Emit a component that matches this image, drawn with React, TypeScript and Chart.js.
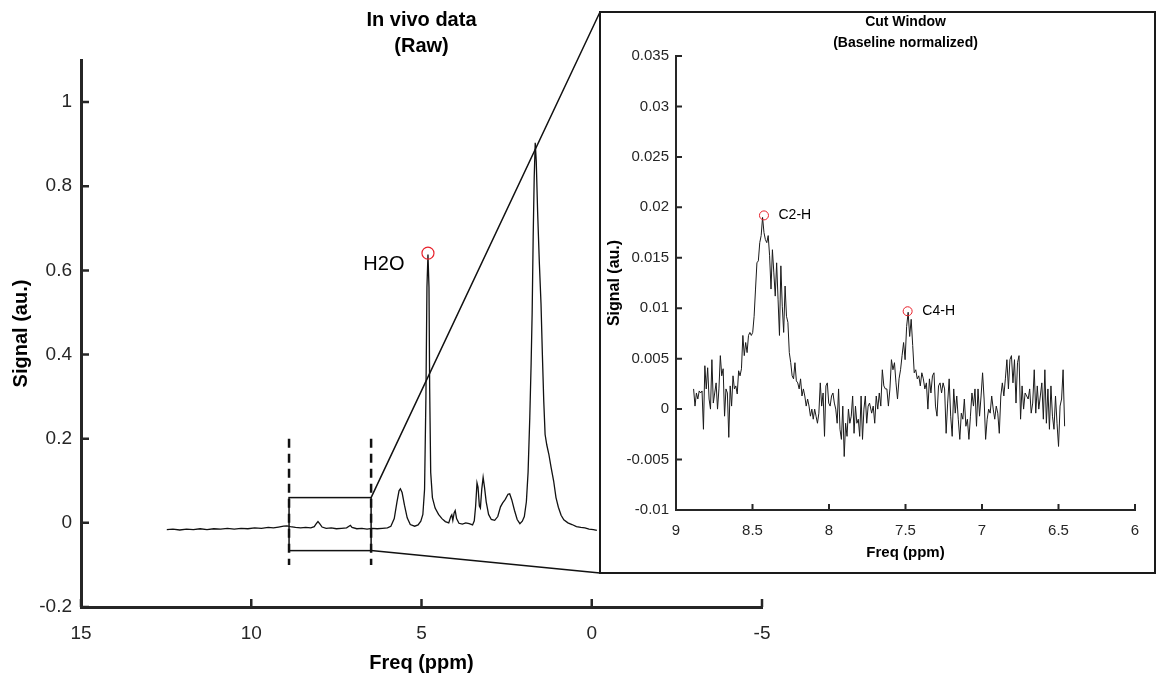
import React, { useEffect, useRef } from "react";
import { Chart, registerables } from "chart.js";

Chart.register(...registerables);

const FONT = "'Liberation Sans', Arial, Helvetica, sans-serif";
const INK = "#262626";
const PAGE_W = 1157;
const PAGE_H = 676;
const INSET_BOX = { left: 600, top: 12, right: 1156, bottom: 573 };

// ---------- main spectrum (raw) ----------
const mainFreq = [
  12.48, 12.3, 12.1, 11.9, 11.7, 11.5, 11.3, 11.1, 10.9, 10.7, 10.5, 10.3, 10.1, 9.9, 9.7, 9.5, 9.35, 9.2, 9.05, 8.95,
  8.85, 8.7, 8.55, 8.4, 8.25, 8.15, 8.09, 8.04, 7.98, 7.92, 7.8, 7.65, 7.5, 7.35, 7.2, 7.13, 7.09, 7.04, 6.9, 6.75,
  6.6, 6.45, 6.3, 6.15, 6.0, 5.9, 5.8, 5.72, 5.66, 5.62, 5.57, 5.5, 5.42, 5.33, 5.2, 5.1, 5.02, 4.96, 4.91, 4.87,
  4.84, 4.81, 4.78, 4.76, 4.73, 4.68, 4.6, 4.5, 4.4, 4.3, 4.2, 4.14, 4.11, 4.08, 4.04, 4.01, 3.97, 3.9, 3.8, 3.7,
  3.6, 3.5, 3.45, 3.41, 3.37, 3.34, 3.3, 3.27, 3.23, 3.19, 3.15, 3.1, 3.03, 2.95, 2.85, 2.76, 2.68, 2.62, 2.54, 2.46,
  2.41, 2.35, 2.27, 2.19, 2.11, 2.04, 1.98, 1.92, 1.87, 1.82, 1.78, 1.75, 1.72, 1.69, 1.66, 1.63, 1.59, 1.54, 1.49, 1.45,
  1.41, 1.37, 1.32, 1.26, 1.19, 1.12, 1.05, 0.98, 0.9, 0.82, 0.7, 0.58, 0.45, 0.32, 0.2, 0.08, -0.05, -0.15,
];
const mainSignal = [
  -0.016, -0.015, -0.017, -0.015, -0.016, -0.014, -0.016, -0.014, -0.015, -0.013, -0.015, -0.013, -0.014, -0.012, -0.013, -0.011, -0.012, -0.01, -0.008, -0.007,
  -0.009, -0.011, -0.012, -0.011, -0.012, -0.009, -0.002, 0.003, -0.003, -0.01, -0.013, -0.012, -0.014, -0.013, -0.012, -0.008, -0.006, -0.011, -0.014, -0.013,
  -0.015, -0.013, -0.014, -0.013, -0.012, -0.008, 0.01, 0.05, 0.076, 0.081, 0.072, 0.042, 0.012, -0.004, -0.008, -0.005, 0.004, 0.02, 0.08, 0.3,
  0.56, 0.638, 0.56, 0.32, 0.12, 0.06, 0.035, 0.02, 0.01, 0.003, 0.0, 0.015, 0.019, 0.006, 0.024, 0.029, 0.01, -0.001, -0.003, 0.0,
  -0.002, -0.005, 0.005, 0.04, 0.095, 0.085, 0.04, 0.035, 0.08, 0.108, 0.085, 0.05, 0.02, 0.008, 0.006, 0.015, 0.038, 0.047, 0.056, 0.068,
  0.069, 0.055, 0.03, 0.008, -0.002, 0.004, 0.015, 0.05, 0.12, 0.25, 0.38, 0.5, 0.68, 0.82, 0.903, 0.86, 0.74, 0.62, 0.52, 0.4,
  0.29, 0.21, 0.185, 0.163, 0.13, 0.1, 0.06, 0.037, 0.018, 0.007, 0.0, -0.004, -0.009, -0.011, -0.012, -0.015, -0.016, -0.018,
];
const mainXTicks = [15, 10, 5, 0, -5];
const mainYTicks = [-0.2, 0, 0.2, 0.4, 0.6, 0.8, 1];
const mainPeak = { label: "H2O", freq: 4.81, signal: 0.641, labelFreq: 5.5, labelSignal: 0.615 };
const cutWindow = { from: 8.89, to: 6.48, top: 0.06, bottom: -0.066, dashTop: 0.2, dashBottom: -0.1 };

// ---------- inset (baseline normalized) ----------
const insetHighRange = [8.885, 7.735];
const insetSignalHigh = [
  0.002, 0.0003, 0.0016, 0.001, 0.0018, 0.0016, 0.0018, -0.002, 0.0043, 0.002,
  0.0041, 0.001, 0.0, 0.0049, 0.0006, 0.0016, 0.0026, 0.0, 0.002, 0.0053,
  0.0033, 0.004, -0.0007, 0.002, 0.0016, -0.0028, 0.0023, 0.0003, 0.0033, 0.002,
  0.0023, 0.0015, 0.0038, 0.0033, 0.004, 0.0073, 0.0053, 0.0066, 0.0056, 0.0073,
  0.0076, 0.0073, 0.0076, 0.0092, 0.0119, 0.0145, 0.0147, 0.0165, 0.0172, 0.019,
  0.0175, 0.0168, 0.0165, 0.0172, 0.0152, 0.0119, 0.0158, 0.0135, 0.0112, 0.0145,
  0.0109, 0.0073, 0.0142, 0.0102, 0.0076, 0.0122, 0.0092, 0.0086, 0.0056, 0.0046,
  0.0033, 0.003, 0.0046, 0.0028, 0.0026, 0.002, 0.003, 0.0013, 0.002, 0.0013,
  0.0003, 0.001, 0.0003, -0.0007, 0.0, -0.001, 0.0, -0.0007, -0.0014, -0.0004,
  0.0026, 0.0003, 0.0016, -0.0027, 0.0023, 0.0026, 0.0006, 0.0003, 0.0013, 0.0016,
  0.0006, 0.0, -0.0014, 0.002, -0.002, -0.003, 0.0003, -0.0047, -0.0014, -0.0027,
  0.0, -0.0014, -0.0007, 0.0013, -0.0024, 0.0003, -0.0014, -0.001, -0.0027, 0.0013,
  -0.003, 0.0, 0.0013, -0.0014, 0.0003, 0.0006,
];
const insetLowRange = [7.721, 6.46];
const insetSignalLow = [
  -0.0004, 0.0003, -0.0014, 0.0013, 0.0, 0.0016, 0.0003, 0.0039, 0.0023, 0.002,
  0.002, 0.0003, 0.002, 0.0049, 0.0039, 0.0046, 0.0026, 0.001, 0.003, 0.0039,
  0.0053, 0.0066, 0.0049, 0.0082, 0.0096, 0.0072, 0.0089, 0.0063, 0.0036, 0.0039,
  0.003, 0.0033, 0.0023, 0.0036, 0.003, 0.002, 0.0026, 0.0, 0.003, 0.0016,
  0.0033, 0.0036, 0.0003, -0.0007, 0.0023, 0.0026, 0.0016, 0.0026, 0.002, -0.0024,
  0.0006, 0.003, -0.0007, -0.0027, 0.002, -0.0004, 0.0013, -0.001, -0.003, -0.0004,
  -0.001, 0.001, -0.0017, -0.001, -0.003, -0.0007, 0.0016, 0.0003, 0.002, -0.0017,
  0.002, -0.0007, 0.0013, 0.0036, 0.001, -0.003, -0.001, 0.0, -0.0004, 0.0013,
  0.0, -0.001, 0.0003, -0.0004, -0.0024, 0.0013, 0.0026, 0.0013, 0.003, 0.0049,
  0.002, 0.0049, 0.0053, 0.0026, 0.0049, 0.0006, 0.0046, 0.0053, -0.001, 0.0023,
  0.0, 0.0016, 0.0013, 0.001, 0.002, -0.0004, 0.0006, 0.0039, -0.0004, 0.0023,
  0.0, 0.0013, 0.0026, -0.001, 0.0039, -0.0014, 0.002, -0.002, 0.0023, -0.0007,
  -0.002, 0.0013, -0.0014, -0.0037, 0.0003, 0.001, 0.0039, -0.0017,
];
const insetXTicks = [9, 8.5, 8, 7.5, 7, 6.5, 6];
const insetYTicks = [-0.01, -0.005, 0, 0.005, 0.01, 0.015, 0.02, 0.025, 0.03, 0.035];
const insetPeakLabels = ["C2-H", "C4-H"];
const insetPeakFreq = [8.425, 7.486];
const insetPeakSignal = [0.0192, 0.0097];
const insetLabelFreq = [8.33, 7.39];

function fmt(v: number) {
  const r = Math.round(v * 1e6) / 1e6;
  return String(r === 0 ? 0 : r);
}

function segment(values: number[], range: number[]) {
  const n = values.length;
  return values.map((v, i) => ({ x: range[0] + ((range[1] - range[0]) * i) / (n - 1), y: v }));
}

const inwardTicks = (len: number, width: number) => ({
  id: "inwardTicks",
  afterDatasetsDraw(chart: any) {
    const { ctx, chartArea, scales } = chart;
    ctx.save();
    ctx.strokeStyle = INK;
    ctx.lineWidth = width;
    ctx.beginPath();
    scales.x.ticks.forEach((t: any) => {
      const px = scales.x.getPixelForValue(t.value);
      ctx.moveTo(px, chartArea.bottom);
      ctx.lineTo(px, chartArea.bottom - len);
    });
    scales.y.ticks.forEach((t: any) => {
      const py = scales.y.getPixelForValue(t.value);
      ctx.moveTo(chartArea.left, py);
      ctx.lineTo(chartArea.left + len, py);
    });
    ctx.stroke();
    ctx.restore();
  },
});

const titleLines = (lines: string[], ys: number[], size: number) => ({
  id: "titleLines",
  afterDraw(chart: any) {
    const { ctx, chartArea } = chart;
    ctx.save();
    ctx.fillStyle = "#000";
    ctx.font = `bold ${size}px ${FONT}`;
    ctx.textAlign = "center";
    ctx.textBaseline = "middle";
    const cx = (chartArea.left + chartArea.right) / 2;
    lines.forEach((l, i) => ctx.fillText(l, cx, ys[i]));
    ctx.restore();
  },
});

const cutWindowPlugin = {
  id: "cutWindow",
  afterDatasetsDraw(chart: any) {
    const { ctx } = chart;
    const x = chart.scales.x;
    const y = chart.scales.y;
    const xl = x.getPixelForValue(cutWindow.from);
    const xr = x.getPixelForValue(cutWindow.to);
    const yt = y.getPixelForValue(cutWindow.top);
    const yb = y.getPixelForValue(cutWindow.bottom);
    ctx.save();
    ctx.strokeStyle = "#111";
    ctx.lineWidth = 1.5;
    ctx.strokeRect(xl, yt, xr - xl, yb - yt);
    ctx.beginPath();
    ctx.moveTo(xr, yt);
    ctx.lineTo(INSET_BOX.left, INSET_BOX.top);
    ctx.moveTo(xr, yb);
    ctx.lineTo(INSET_BOX.left, INSET_BOX.bottom);
    ctx.stroke();
    ctx.setLineDash([9, 6]);
    ctx.lineWidth = 2.5;
    ctx.beginPath();
    [cutWindow.from, cutWindow.to].forEach((f) => {
      const px = x.getPixelForValue(f);
      ctx.moveTo(px, y.getPixelForValue(cutWindow.dashTop));
      ctx.lineTo(px, y.getPixelForValue(cutWindow.dashBottom));
    });
    ctx.stroke();
    ctx.setLineDash([]);
    ctx.fillStyle = "#000";
    ctx.font = `20px ${FONT}`;
    ctx.textAlign = "right";
    ctx.textBaseline = "middle";
    ctx.fillText(mainPeak.label, x.getPixelForValue(mainPeak.labelFreq), y.getPixelForValue(mainPeak.labelSignal));
    ctx.restore();
  },
};

const insetLabelPlugin = {
  id: "insetLabels",
  afterDatasetsDraw(chart: any) {
    const { ctx } = chart;
    const x = chart.scales.x;
    const y = chart.scales.y;
    ctx.save();
    ctx.fillStyle = "#000";
    ctx.font = `14px ${FONT}`;
    ctx.textAlign = "left";
    ctx.textBaseline = "middle";
    insetPeakLabels.forEach((l, i) => {
      ctx.fillText(l, x.getPixelForValue(insetLabelFreq[i]), y.getPixelForValue(insetPeakSignal[i]));
    });
    ctx.restore();
  },
};

function axis(opts: any) {
  const { min, max, reverse, ticks, fontSize, pad, title, titleSize, titlePad, border, fit } = opts;
  return {
    type: "linear",
    min,
    max,
    reverse,
    afterBuildTicks: (s: any) => {
      s.ticks = ticks.map((v: number) => ({ value: v }));
    },
    ticks: {
      color: INK,
      font: { family: FONT, size: fontSize },
      padding: pad,
      autoSkip: false,
      maxRotation: 0,
      callback: (v: any) => fmt(Number(v)),
    },
    grid: { display: false, drawTicks: false },
    border: { display: true, color: INK, width: border },
    title: {
      display: true,
      text: title,
      color: "#000",
      font: { family: FONT, size: titleSize, weight: "bold" },
      padding: titlePad,
    },
    afterFit: fit,
  };
}

export default function App() {
  const mainRef = useRef<HTMLCanvasElement>(null);
  const insetRef = useRef<HTMLCanvasElement>(null);

  useEffect(() => {
    document.body.style.margin = "0";
    Chart.defaults.font.family = FONT;

    const main = new Chart(mainRef.current as HTMLCanvasElement, {
      type: "scatter",
      data: {
        datasets: [
          {
            data: [{ x: mainPeak.freq, y: mainPeak.signal }],
            pointStyle: "circle",
            pointRadius: 6,
            pointBorderWidth: 1.2,
            pointBorderColor: "#e8212b",
            pointBackgroundColor: "rgba(0,0,0,0)",
            showLine: false,
          },
          {
            data: mainFreq.map((f, i) => ({ x: f, y: mainSignal[i] })),
            showLine: true,
            borderColor: "#111",
            borderWidth: 1.3,
            pointRadius: 0,
            tension: 0,
          },
        ],
      },
      options: {
        responsive: false,
        animation: false,
        events: [],
        layout: { padding: { left: 0, top: 60, right: PAGE_W - 762, bottom: 0 } },
        plugins: { legend: { display: false }, tooltip: { enabled: false }, title: { display: false } },
        scales: {
          x: axis({
            min: -5, max: 15, reverse: true, ticks: mainXTicks, fontSize: 19, pad: 15,
            title: "Freq (ppm)", titleSize: 20, titlePad: { top: 0, bottom: 1 }, border: 3,
            fit: (s: any) => { s.height = 69; },
          }),
          y: axis({
            min: -0.2, max: 1.1, reverse: false, ticks: mainYTicks, fontSize: 19, pad: 9,
            title: "Signal (au.)", titleSize: 20, titlePad: { top: 9, bottom: 0 }, border: 3,
            fit: (s: any) => { s.width = 81; },
          }),
        },
      } as any,
      plugins: [cutWindowPlugin, inwardTicks(8, 2.5), titleLines(["In vivo data", "(Raw)"], [20.5, 46.5], 20)],
    });

    const insetData = [...segment(insetSignalHigh, insetHighRange), ...segment(insetSignalLow, insetLowRange)];
    const inset = new Chart(insetRef.current as HTMLCanvasElement, {
      type: "scatter",
      data: {
        datasets: [
          {
            data: insetPeakFreq.map((f, i) => ({ x: f, y: insetPeakSignal[i] })),
            pointStyle: "circle",
            pointRadius: 4.5,
            pointBorderWidth: 1,
            pointBorderColor: "#e8212b",
            pointBackgroundColor: "rgba(0,0,0,0)",
            showLine: false,
          },
          {
            data: insetData,
            showLine: true,
            borderColor: "#1a1a1a",
            borderWidth: 1,
            pointRadius: 0,
            tension: 0,
          },
        ],
      },
      options: {
        responsive: false,
        animation: false,
        events: [],
        layout: { padding: { left: 0, top: 43, right: 19, bottom: 0 } },
        plugins: { legend: { display: false }, tooltip: { enabled: false }, title: { display: false } },
        scales: {
          x: axis({
            min: 6, max: 9, reverse: true, ticks: insetXTicks, fontSize: 15, pad: 12,
            title: "Freq (ppm)", titleSize: 15, titlePad: { top: 0, bottom: 10 }, border: 2,
            fit: (s: any) => { s.height = 62; },
          }),
          y: axis({
            min: -0.01, max: 0.035, reverse: false, ticks: insetYTicks, fontSize: 15, pad: 7,
            title: "Signal (au.)", titleSize: 16, titlePad: { top: 4, bottom: 0 }, border: 2,
            fit: (s: any) => { s.width = 75; },
          }),
        },
      } as any,
      plugins: [insetLabelPlugin, inwardTicks(6, 2), titleLines(["Cut Window", "(Baseline normalized)"], [9, 30], 14)],
    });

    return () => {
      main.destroy();
      inset.destroy();
    };
  }, []);

  return (
    <div style={{ position: "relative", width: PAGE_W, height: PAGE_H, background: "#fff", overflow: "hidden" }}>
      <canvas ref={mainRef} width={PAGE_W} height={PAGE_H} style={{ position: "absolute", left: 0, top: 0 }} />
      <div
        style={{
          position: "absolute",
          left: INSET_BOX.left - 1,
          top: INSET_BOX.top - 1,
          width: INSET_BOX.right - INSET_BOX.left + 1,
          height: INSET_BOX.bottom - INSET_BOX.top + 2,
          border: "2px solid #1a1a1a",
          boxSizing: "border-box",
          background: "#fff",
        }}
      >
        <canvas ref={insetRef} width={553} height={559} style={{ display: "block" }} />
      </div>
    </div>
  );
}
